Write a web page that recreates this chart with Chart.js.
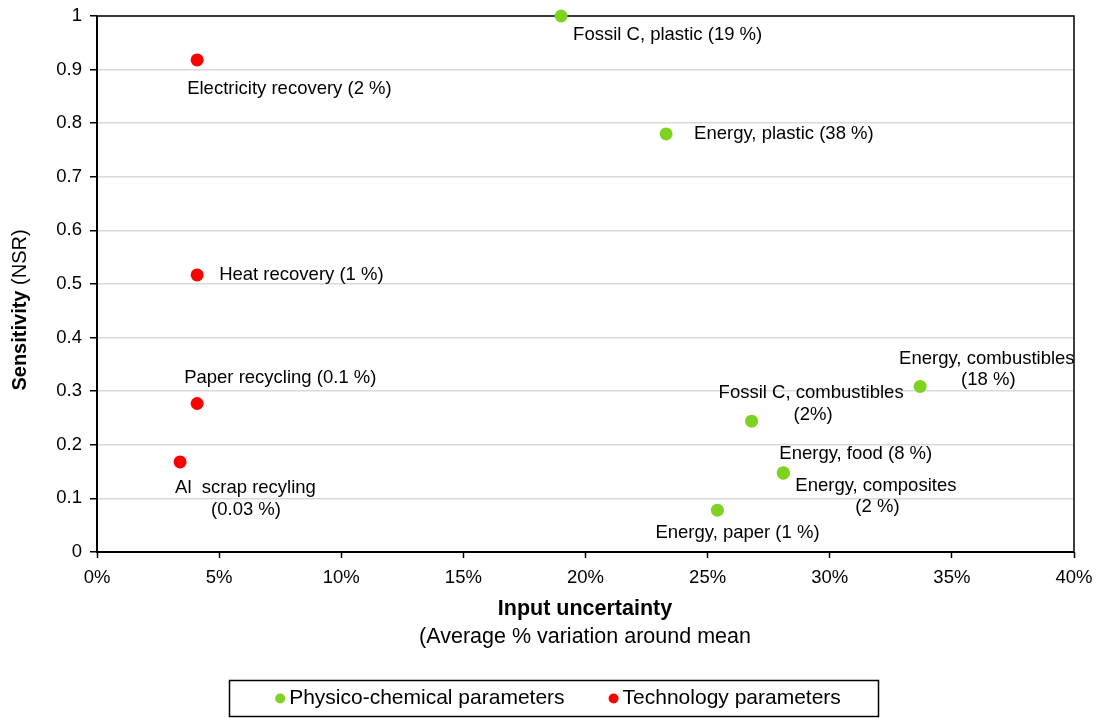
<!DOCTYPE html>
<html>
<head>
<meta charset="utf-8">
<script src="https://cdn.jsdelivr.net/npm/chart.js@4/dist/chart.umd.min.js"></script>
<style>
  html, body { margin: 0; padding: 0; background: #ffffff; }
  #wrap { width: 1099px; height: 718px; position: relative; }
</style>
</head>
<body>
<div id="wrap"><canvas id="chart" width="1099" height="718"></canvas></div>
<script>
// Physico-chemical parameters: input uncertainty (fraction) vs. sensitivity (NSR)
const physicoNames = [
  'Fossil C, plastic (19 %)',
  'Energy, plastic (38 %)',
  'Energy, combustibles\n(18 %)',
  'Fossil C, combustibles\n(2%)',
  'Energy, food (8 %)',
  'Energy, composites\n(2 %)',
  'Energy, paper (1 %)'
];
const physicoUncertainty = [0.190, 0.233, 0.337, 0.268, 0.281, 0.281, 0.254];
const physicoSensitivity = [1.000, 0.780, 0.309, 0.244, 0.148, 0.147, 0.078];

// Technology parameters
const technologyNames = [
  'Electricity recovery (2 %)',
  'Heat recovery (1 %)',
  'Paper recycling (0.1 %)',
  'Al  scrap recyling\n(0.03 %)'
];
const technologyUncertainty = [0.041, 0.041, 0.041, 0.034];
const technologySensitivity = [0.918, 0.517, 0.277, 0.168];

const seriesNames = ['Physico-chemical parameters', 'Technology parameters'];

// Axis ranges / tick steps
const xTickStep = 0.05;
const yTickStep = 0.1;

// Label placement relative to each point (left edge of text, vertical centre), one entry per line
const physicoLabelOffsets = [
  [[12, 19]],
  [[28, 0]],
  [[-21, -27], [41, -6]],
  [[-33, -28], [42, -6]],
  [[-4, -19]],
  [[12, 13], [72, 34]],
  [[-62, 23]]
];
const technologyLabelOffsets = [
  [[-10, 29]],
  [[22, 0]],
  [[-13, -26]],
  [[-5, 26], [31, 48]]
];

const GREEN = '#7ED321';
const RED = '#FF0000';
const FONT = '"Liberation Sans", Arial, Helvetica, sans-serif';

function toPoints(xs, ys) {
  return xs.map((x, i) => ({ x: x, y: ys[i] }));
}

const frameAndTitles = {
  id: 'frameAndTitles',
  beforeDatasetsDraw(chart) {
    const { ctx, chartArea: a } = chart;
    ctx.save();
    // top and right frame lines
    ctx.strokeStyle = '#000';
    ctx.lineWidth = 1.5;
    ctx.beginPath();
    ctx.moveTo(a.left, a.top);
    ctx.lineTo(a.right, a.top);
    ctx.lineTo(a.right, a.bottom);
    ctx.stroke();
    // axis lines
    ctx.lineWidth = 2;
    ctx.beginPath();
    ctx.moveTo(a.left, a.top);
    ctx.lineTo(a.left, a.bottom);
    ctx.lineTo(a.right, a.bottom);
    ctx.stroke();
    ctx.restore();
  },
  afterDatasetsDraw(chart) {
    const { ctx } = chart;
    ctx.save();
    ctx.fillStyle = '#000';
    ctx.font = '18.5px ' + FONT;
    ctx.textAlign = 'left';
    ctx.textBaseline = 'middle';
    const groups = [
      { names: physicoNames, offsets: physicoLabelOffsets, ds: 0 },
      { names: technologyNames, offsets: technologyLabelOffsets, ds: 1 }
    ];
    groups.forEach(g => {
      const meta = chart.getDatasetMeta(g.ds);
      g.names.forEach((name, i) => {
        const el = meta.data[i];
        const lines = name.split('\n');
        lines.forEach((line, j) => {
          const off = g.offsets[i][j];
          ctx.fillText(line, el.x + off[0], el.y + off[1]);
        });
      });
    });
    ctx.restore();
  },
  afterDraw(chart) {
    const { ctx } = chart;
    ctx.save();
    ctx.fillStyle = '#000';
    ctx.textBaseline = 'middle';

    // x-axis title (two lines)
    ctx.textAlign = 'center';
    ctx.font = 'bold 21.5px ' + FONT;
    ctx.fillText('Input uncertainty', 585, 609);
    ctx.font = '21.5px ' + FONT;
    ctx.fillText('(Average % variation around mean', 585, 637);

    // y-axis title: bold + regular runs, rotated
    ctx.translate(20, 310);
    ctx.rotate(-Math.PI / 2);
    const boldPart = 'Sensitivity';
    const normalPart = ' (NSR)';
    ctx.font = 'bold 20px ' + FONT;
    const wb = ctx.measureText(boldPart).width;
    ctx.font = '20px ' + FONT;
    const wn = ctx.measureText(normalPart).width;
    const start = -(wb + wn) / 2;
    ctx.textAlign = 'left';
    ctx.font = 'bold 20px ' + FONT;
    ctx.fillText(boldPart, start, 0);
    ctx.font = '20px ' + FONT;
    ctx.fillText(normalPart, start + wb, 0);
    ctx.restore();

    // legend box
    ctx.save();
    const box = { left: 229.5, top: 680.5, right: 878.5, bottom: 716.5 };
    ctx.strokeStyle = '#000';
    ctx.lineWidth = 1.5;
    ctx.strokeRect(box.left, box.top, box.right - box.left, box.bottom - box.top);
    ctx.font = '21px ' + FONT;
    ctx.textBaseline = 'middle';
    ctx.textAlign = 'left';
    const dotR = 5, dotGap = 4, itemGap = 44;
    const items = chart.data.datasets.map(d => ({ text: d.label, color: d.backgroundColor }));
    const widths = items.map(it => ctx.measureText(it.text).width);
    const total = widths.reduce((s, w) => s + w + dotR * 2 + dotGap, 0) + itemGap * (items.length - 1);
    let x = (box.left + box.right) / 2 + 4 - total / 2;
    const cy = (box.top + box.bottom) / 2;
    items.forEach((it, i) => {
      ctx.fillStyle = it.color;
      ctx.beginPath();
      ctx.arc(x + dotR, cy, dotR, 0, Math.PI * 2);
      ctx.fill();
      x += dotR * 2 + dotGap;
      ctx.fillStyle = '#000';
      ctx.fillText(it.text, x, cy);
      x += widths[i] + itemGap;
    });
    ctx.restore();
  }
};

new Chart(document.getElementById('chart'), {
  type: 'scatter',
  data: {
    datasets: [
      {
        label: seriesNames[0],
        data: toPoints(physicoUncertainty, physicoSensitivity),
        backgroundColor: GREEN,
        borderColor: GREEN,
        pointRadius: 6.5,
        pointHoverRadius: 6.5,
        borderWidth: 0,
        clip: false
      },
      {
        label: seriesNames[1],
        data: toPoints(technologyUncertainty, technologySensitivity),
        backgroundColor: RED,
        borderColor: RED,
        pointRadius: 6.5,
        pointHoverRadius: 6.5,
        borderWidth: 0,
        clip: false
      }
    ]
  },
  options: {
    responsive: false,
    animation: false,
    devicePixelRatio: 1,
    layout: { padding: { left: 0, top: 16, right: 25, bottom: 0 } },
    plugins: {
      legend: { display: false },
      tooltip: { enabled: false },
      title: { display: false }
    },
    scales: {
      x: {
        type: 'linear',
        min: 0,
        max: 0.4,
        afterFit(scale) {
          scale.height = 166;
          scale.paddingLeft = 0;
          scale.paddingRight = 0;
        },
        border: { display: false },
        grid: { drawOnChartArea: false, drawTicks: true, tickLength: 6, tickColor: '#000', tickWidth: 1.5 },
        ticks: {
          stepSize: xTickStep,
          padding: 9,
          color: '#000',
          font: { family: FONT, size: 18.5 },
          maxRotation: 0,
          callback: v => Math.round(v * 100) + '%'
        }
      },
      y: {
        type: 'linear',
        min: 0,
        max: 1,
        afterFit(scale) {
          scale.width = 97;
          scale.paddingTop = 0;
          scale.paddingBottom = 0;
        },
        border: { display: false },
        grid: { color: '#D9D9D9', lineWidth: 1.5, drawTicks: true, tickLength: 7, tickColor: '#000', tickWidth: 1.5 },
        ticks: {
          stepSize: yTickStep,
          padding: 8,
          color: '#000',
          font: { family: FONT, size: 18.5 },
          callback: v => (Math.round(v * 10) / 10).toString()
        }
      }
    }
  },
  plugins: [frameAndTitles]
});
</script>
</body>
</html>
